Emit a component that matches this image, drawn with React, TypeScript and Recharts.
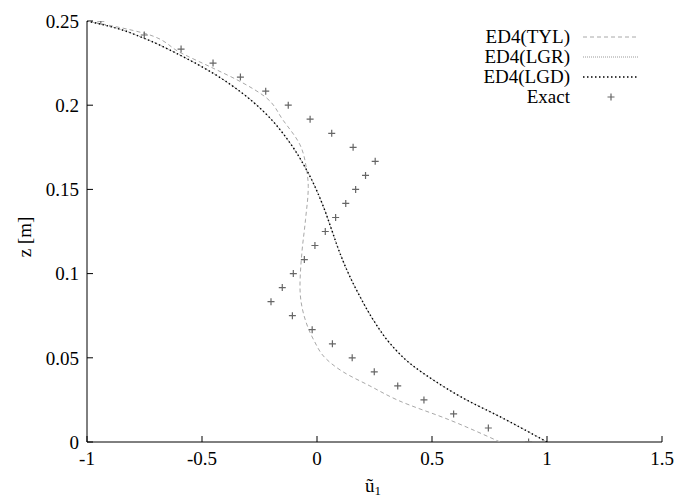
import React from "react";
import { ScatterChart, Scatter, XAxis, YAxis } from "recharts";

// exact solution
const exactZ = [0, 0.0083, 0.0167, 0.025, 0.0333, 0.0417, 0.05, 0.0583, 0.0667, 0.075, 0.0833, 0.0917, 0.1, 0.1083, 0.1167, 0.125, 0.1333, 0.1417, 0.15, 0.1583, 0.1667, 0.175, 0.1833, 0.1917, 0.2, 0.2083, 0.2167, 0.225, 0.2333, 0.2417, 0.25];
const exactU = [0.92, 0.745, 0.594, 0.465, 0.351, 0.249, 0.153, 0.067, -0.021, -0.107, -0.2, -0.151, -0.103, -0.055, -0.009, 0.036, 0.081, 0.125, 0.168, 0.211, 0.253, 0.157, 0.064, -0.03, -0.125, -0.223, -0.333, -0.452, -0.591, -0.751, -0.94];

// ED4(TYL)
const tylZ = [0, 0.013, 0.0249, 0.0333, 0.0416, 0.05, 0.06, 0.0764, 0.0922, 0.112, 0.132, 0.1516, 0.1615, 0.1765, 0.191, 0.2047, 0.214, 0.222, 0.231, 0.2427, 0.25];
const tylU = [0.796, 0.578, 0.35, 0.23, 0.114, 0.035, -0.012, -0.059, -0.074, -0.066, -0.05, -0.038, -0.045, -0.074, -0.147, -0.223, -0.333, -0.452, -0.591, -0.751, -1.0];

// ED4(LGR) and ED4(LGD) lie on top of each other
const lgdZ = [0, 0.015, 0.026, 0.0368, 0.0467, 0.0586, 0.0724, 0.0863, 0.0982, 0.112, 0.1259, 0.139, 0.1615, 0.1775, 0.195, 0.208, 0.219, 0.2294, 0.2397, 0.2457, 0.25];
const lgdU = [1.0, 0.796, 0.636, 0.506, 0.404, 0.317, 0.245, 0.187, 0.143, 0.1, 0.064, 0.03, -0.045, -0.117, -0.223, -0.333, -0.452, -0.591, -0.751, -0.871, -1.0];

const xTicks = [-1, -0.5, 0, 0.5, 1, 1.5];
const zTicks = [0, 0.05, 0.1, 0.15, 0.2, 0.25];

const legendNames = ["ED4(TYL)", "ED4(LGR)", "ED4(LGD)", "Exact"];

const toPoints = (u: number[], z: number[]) => u.map((x, i) => ({ x, z: z[i] }));

const FONT = "Liberation Serif";
const tickStyle = { fontSize: 19, fill: "#000", fontFamily: FONT };

const STYLES = {
  tyl: { stroke: "#a8a8a8", strokeWidth: 1, strokeDasharray: "4 3" },
  lgr: { stroke: "#9a9a9a", strokeWidth: 1, strokeDasharray: "1 1" },
  lgd: { stroke: "#000", strokeWidth: 1.4, strokeDasharray: "1.5 2.5" }
};

const Plus = (props: any) => {
  const { cx, cy } = props;
  if (cx == null || cy == null) return <g />;
  return (
    <path
      d={`M${cx - 3.5},${cy}H${cx + 3.5}M${cx},${cy - 3.5}V${cy + 3.5}`}
      stroke="#666"
      strokeWidth={1.2}
    />
  );
};

const NoDot = () => <g />;

export default function App() {
  const lineStyles = [STYLES.tyl, STYLES.lgr, STYLES.lgd];
  return (
    <div style={{ position: "absolute", left: 0, top: 0, width: 691, height: 500, background: "#fff", fontFamily: FONT }}>
      <ScatterChart width={691} height={500} margin={{ top: 21, right: 29, left: 0, bottom: 0 }}>
        <XAxis
          xAxisId="b"
          type="number"
          dataKey="x"
          domain={[-1, 1.5]}
          ticks={xTicks}
          interval={0}
          allowDataOverflow
          height={58}
          tickSize={-6}
          tickMargin={16}
          tick={tickStyle}
          axisLine={{ stroke: "#000" }}
          tickLine={{ stroke: "#000" }}
        />
        <XAxis
          xAxisId="t"
          orientation="top"
          type="number"
          domain={[-1, 1.5]}
          ticks={xTicks}
          interval={0}
          allowDataOverflow
          height={0}
          tickSize={-6}
          tick={false}
          axisLine={{ stroke: "#000" }}
          tickLine={{ stroke: "#000" }}
        />
        <YAxis
          yAxisId="l"
          type="number"
          dataKey="z"
          domain={[0, 0.25]}
          ticks={zTicks}
          interval={0}
          allowDataOverflow
          width={87}
          tickSize={-6}
          tickMargin={14}
          tick={tickStyle}
          axisLine={{ stroke: "#000" }}
          tickLine={{ stroke: "#000" }}
        />
        <YAxis
          yAxisId="r"
          orientation="right"
          type="number"
          domain={[0, 0.25]}
          ticks={zTicks}
          interval={0}
          allowDataOverflow
          width={0}
          tickSize={-6}
          tick={false}
          axisLine={{ stroke: "#000" }}
          tickLine={{ stroke: "#000" }}
        />
        <Scatter
          xAxisId="b"
          yAxisId="l"
          data={toPoints(tylU, tylZ)}
          line={STYLES.tyl}
          lineJointType="monotoneY"
          shape={NoDot}
          isAnimationActive={false}
        />
        <Scatter
          xAxisId="b"
          yAxisId="l"
          data={toPoints(lgdU, lgdZ)}
          line={STYLES.lgr}
          lineJointType="monotoneY"
          shape={NoDot}
          isAnimationActive={false}
        />
        <Scatter
          xAxisId="b"
          yAxisId="l"
          data={toPoints(lgdU, lgdZ)}
          line={STYLES.lgd}
          lineJointType="monotoneY"
          shape={NoDot}
          isAnimationActive={false}
        />
        <Scatter
          xAxisId="b"
          yAxisId="l"
          data={toPoints(exactU, exactZ)}
          shape={Plus}
          isAnimationActive={false}
        />
      </ScatterChart>

      {/* legend and axis titles */}
      <svg
        width={691}
        height={500}
        style={{ position: "absolute", left: 0, top: 0, pointerEvents: "none" }}
      >
        {legendNames.map((name, i) => {
          const base = 43 + i * 20;
          const ly = base - 6;
          return (
            <g key={name}>
              <text x={570} y={base} textAnchor="end" fontSize={19} style={{ fontFamily: FONT }} fill="#000">
                {name}
              </text>
              {i < 3 ? (
                <line x1={583} x2={638} y1={ly} y2={ly} {...lineStyles[i]} />
              ) : (
                <Plus cx={611} cy={ly} />
              )}
            </g>
          );
        })}
        <text
          x={0}
          y={0}
          transform="translate(31,237) rotate(-90)"
          textAnchor="middle"
          fontSize={19}
          style={{ fontFamily: FONT }}
          fill="#000"
        >
          z [m]
        </text>
        <text x={365} y={492} fontSize={19} style={{ fontFamily: FONT }} fill="#000">
          ũ
          <tspan fontSize={13} dy={3}>1</tspan>
        </text>
      </svg>
    </div>
  );
}
